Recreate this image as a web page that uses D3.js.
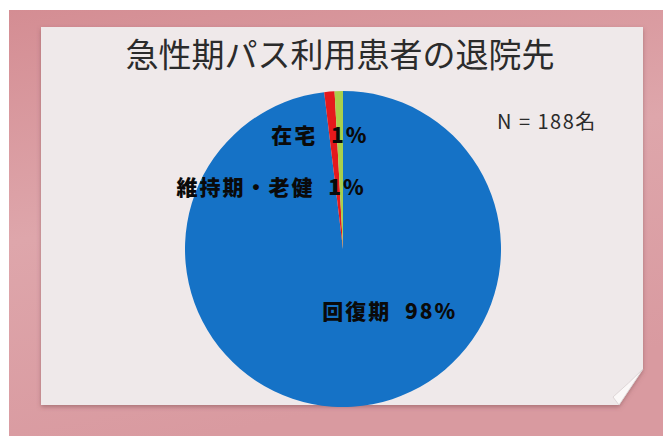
<!DOCTYPE html>
<html>
<head>
<meta charset="utf-8">
<script src="https://cdn.jsdelivr.net/npm/d3@7"></script>
<style>
  body { margin: 0; background: #ffffff; }
  text { font-family: "Noto Sans CJK JP", "Noto Sans", sans-serif; }
</style>
</head>
<body>
<div id="chart"></div>
<script>
// Chart values
const categories = ["回復期", "維持期・老健", "在宅"];
const shares = [98.1, 1.05, 0.85];
const labelPercents = ["98%", "1%", "1%"];
const colors = ["#1572c6", "#e5191c", "#a9cf4c"];
const title = "急性期パス利用患者の退院先";
const note = "N = 188名";

const width = 663, height = 436;

const svg = d3.select("#chart")
    .append("svg")
    .attr("width", width)
    .attr("height", height);

// Pink frame background
const defs = svg.append("defs");
const frameGrad = defs.append("linearGradient")
    .attr("id", "frameGrad")
    .attr("x1", 0).attr("y1", 0).attr("x2", 0.3).attr("y2", 1);
frameGrad.append("stop").attr("offset", "0%").attr("stop-color", "#d48d93");
frameGrad.append("stop").attr("offset", "50%").attr("stop-color", "#dea6ab");
frameGrad.append("stop").attr("offset", "100%").attr("stop-color", "#d99aa0");

const shadow = defs.append("filter").attr("id", "shadow")
    .attr("x", "-5%").attr("y", "-5%").attr("width", "110%").attr("height", "115%");
shadow.append("feDropShadow")
    .attr("dx", 0).attr("dy", 2).attr("stdDeviation", 2)
    .attr("flood-color", "#7a4a4e").attr("flood-opacity", 0.5);

svg.append("rect")
    .attr("x", 9).attr("y", 10)
    .attr("width", width - 9).attr("height", height - 10)
    .attr("fill", "url(#frameGrad)");

// Paper sheet with curled bottom-right corner
const px0 = 41, py0 = 27, px1 = 643, py1 = 405;
svg.append("path")
    .attr("d", `M${px0},${py0} L${px1},${py0} L${px1},${py1 - 36} L${px1 - 24},${py1} L${px0},${py1} Z`)
    .attr("fill", "#efe9ea")
    .attr("filter", "url(#shadow)");
svg.append("path")
    .attr("d", `M${px1},${py1 - 36} L${px1 - 24},${py1} L${px1 - 30},${py1 - 8} Q${px1 - 14},${py1 - 22} ${px1},${py1 - 36} Z`)
    .attr("fill", "#fbf8f8")
    .attr("stroke", "#d8cfd0")
    .attr("stroke-width", 0.8);

// Title
svg.append("text")
    .attr("x", 340)
    .attr("y", 67)
    .attr("text-anchor", "middle")
    .style("font-size", "33px")
    .style("fill", "#2b2b2b")
    .text(title);

// Pie
const cx = 343, cy = 249, radius = 158;
const pie = d3.pie().sort(null).value(d => d);
const arc = d3.arc().innerRadius(0).outerRadius(radius);
const arcs = pie(shares);

const g = svg.append("g")
    .attr("transform", `translate(${cx},${cy})`);

g.selectAll("path")
    .data(arcs)
    .enter()
    .append("path")
    .attr("d", arc)
    .attr("fill", (d, i) => colors[i]);

// Data labels (offset from the slice centroid like the original)
const labelArc = d3.arc().innerRadius(0).outerRadius(radius);
const labelOffsets = [[42, -16], [-65, 17], [-21, -34]];

g.selectAll(".label")
    .data(arcs)
    .enter()
    .append("text")
    .attr("class", "label")
    .attr("transform", (d, i) => {
        const c = labelArc.centroid(d);
        return `translate(${c[0] + labelOffsets[i][0]},${c[1] + labelOffsets[i][1]})`;
    })
    .attr("text-anchor", "middle")
    .attr("dy", "0.35em")
    .style("font-size", "21px")
    .style("font-weight", "900")
    .style("letter-spacing", "2px")
    .style("white-space", "pre")
    .style("fill", "#0a0a0a")
    .text((d, i) => categories[i] + "  " + labelPercents[i]);

// Sample size note
svg.append("text")
    .attr("x", 497)
    .attr("y", 129)
    .style("font-size", "20px")
    .style("letter-spacing", "1.5px")
    .style("fill", "#2b2b2b")
    .text(note);
</script>
</body>
</html>
